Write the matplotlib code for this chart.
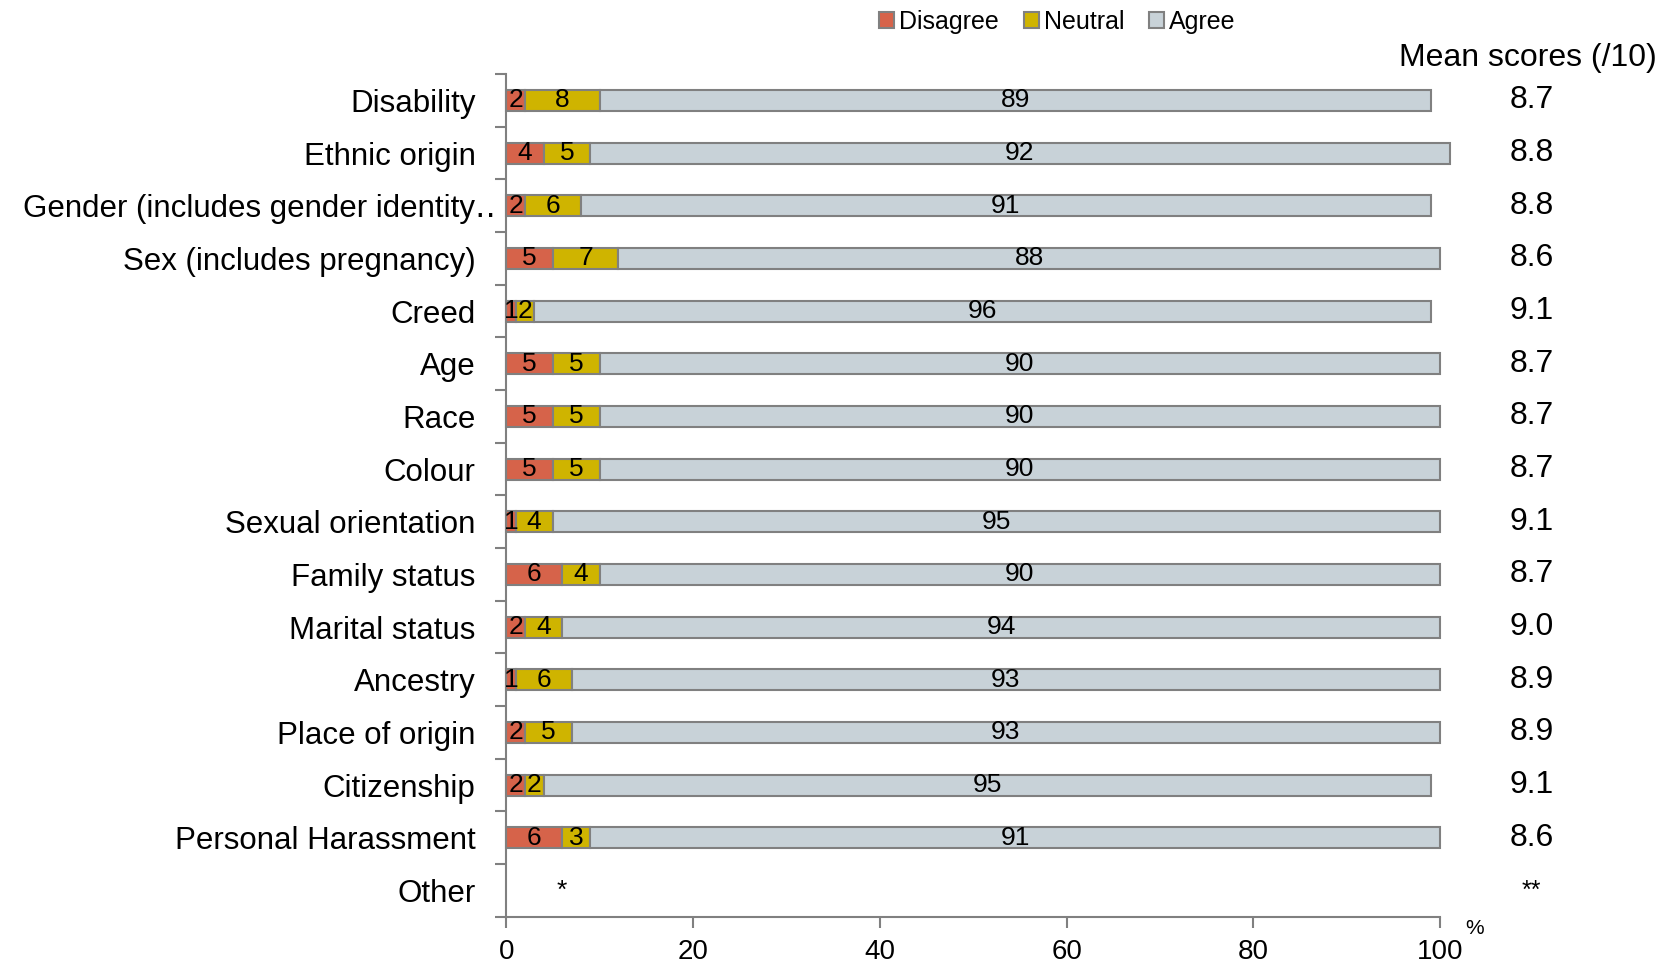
import matplotlib.pyplot as plt
import matplotlib.transforms as mtransforms
from matplotlib.patches import Patch

plt.rcParams['font.family'] = ['Liberation Sans', 'DejaVu Sans']

categories = [
    "Disability", "Ethnic origin", "Gender (includes gender identity\u2025",
    "Sex (includes pregnancy)", "Creed", "Age", "Race", "Colour",
    "Sexual orientation", "Family status", "Marital status", "Ancestry",
    "Place of origin", "Citizenship", "Personal Harassment", "Other",
]
disagree = [2, 4, 2, 5, 1, 5, 5, 5, 1, 6, 2, 1, 2, 2, 6, None]
neutral = [8, 5, 6, 7, 2, 5, 5, 5, 4, 4, 4, 6, 5, 2, 3, None]
agree = [89, 92, 91, 88, 96, 90, 90, 90, 95, 90, 94, 93, 93, 95, 91, None]
mean_scores = ["8.7", "8.8", "8.8", "8.6", "9.1", "8.7", "8.7", "8.7",
               "9.1", "8.7", "9.0", "8.9", "8.9", "9.1", "8.6", "**"]

c_dis = "#D6634A"
c_neu = "#CFB400"
c_agr = "#C8D2D8"
edge = "#808080"

fig = plt.figure(figsize=(16.65, 9.63), dpi=100)
ax = fig.add_axes([0.304, 0.048, 0.561, 0.875])

n = len(categories)
ys = list(range(n))
bar_h = 0.4

for y, d, nu, a in zip(ys, disagree, neutral, agree):
    if d is None:
        continue
    segs = [(0, d, c_dis), (d, nu, c_neu), (d + nu, a, c_agr)]
    for left, w, col in segs:
        ax.barh(y, w, left=left, height=bar_h, color=col, edgecolor=edge,
                linewidth=1.5, clip_on=False)
        ax.text(left + w / 2, y, str(w), ha="center", va="center",
                fontsize=19, color="black")

# "Other" row has no data shown
ax.text(6, n - 1, "*", ha="center", va="center", fontsize=19)

ax.set_ylim(n - 0.5, -0.5)
ax.set_xlim(0, 100)
ax.set_yticks(ys)
ax.set_yticklabels(categories, fontsize=22.5)
ax.set_yticks([i - 0.5 for i in range(n + 1)], minor=True)
ax.tick_params(axis="y", which="major", length=0, pad=22)
ax.tick_params(axis="y", which="minor", length=8, color=edge, width=1.5)
ax.set_xticks([0, 20, 40, 60, 80, 100])
ax.tick_params(axis="x", length=8, color=edge, width=1.5, labelsize=20, pad=8)

# the truncated gender label sits closer to the axis
lbl = ax.get_yticklabels()[2]
lbl.set_transform(lbl.get_transform() +
                  mtransforms.ScaledTranslation(0.2, 0, fig.dpi_scale_trans))

for s in ["top", "right"]:
    ax.spines[s].set_visible(False)
for s in ["left", "bottom"]:
    ax.spines[s].set_color(edge)
    ax.spines[s].set_linewidth(1.5)

ax.text(103.7, -0.014, "%", transform=ax.get_xaxis_transform(),
        ha="center", va="center", fontsize=15)

# mean scores column
for y, m in zip(ys, mean_scores):
    ax.text(1.098, y, m, transform=ax.get_yaxis_transform(), ha="center",
            va="center", fontsize=23 if m != "**" else 18)
fig.text(0.995, 0.94, "Mean scores (/10)", ha="right", va="center", fontsize=23)

handles = [Patch(facecolor=c_dis, edgecolor=edge, linewidth=1.5),
           Patch(facecolor=c_neu, edgecolor=edge, linewidth=1.5),
           Patch(facecolor=c_agr, edgecolor=edge, linewidth=1.5)]
fig.legend(handles, ["Disagree", "Neutral", "Agree"], loc="center",
           bbox_to_anchor=(0.635, 0.977), ncol=3, frameon=False, fontsize=18,
           handlelength=0.6, handleheight=0.6, handletextpad=0.2,
           columnspacing=1.0)

fig.savefig("out.png", dpi=100)
